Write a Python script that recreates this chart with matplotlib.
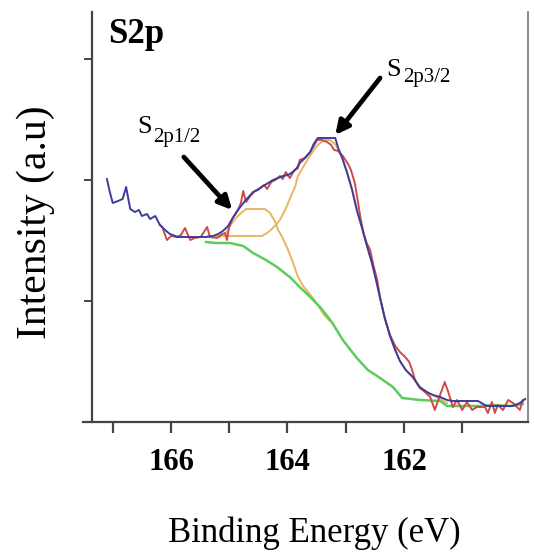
import matplotlib
matplotlib.use("Agg")
import matplotlib.pyplot as plt

# ---- data (binding energy in eV, intensity in arbitrary units) ----
fit_be = [167.10, 167.05, 167.00, 166.91, 166.83, 166.77, 166.70, 166.62, 166.55, 166.50,
          166.41, 166.36, 166.27, 166.19, 166.10, 166.02, 165.88, 165.59, 165.40, 165.28,
          165.19, 165.11, 165.02, 164.94, 164.85, 164.73, 164.59, 164.51, 164.42, 164.33,
          164.25, 164.16, 164.08, 163.99, 163.91, 163.84, 163.79, 163.70, 163.61, 163.55,
          163.48, 163.30, 163.18, 163.13, 163.06, 162.98, 162.89, 162.81, 162.72, 162.64,
          162.55, 162.48, 162.41, 162.33, 162.24, 162.15, 162.07, 161.97, 161.85, 161.73,
          161.61, 161.50, 161.38, 161.26, 161.16, 160.73, 160.58, 160.13, 160.01, 159.92]
fit_int = [243, 230, 219, 221, 223, 235, 213, 210, 212, 206,
           208, 203, 206, 197, 192, 188, 185, 185, 185, 186,
           188, 191, 196, 204, 212, 221, 230, 232, 236, 239,
           242, 244, 246, 247, 250, 254, 259, 264, 270, 278,
           284, 284, 284, 274, 264, 250, 232, 212, 194, 177,
           159, 142, 124, 104, 86, 72, 61, 52, 45, 35,
           30, 27, 25, 22, 21, 21, 16, 16, 19, 23]

raw_be = [166.19, 166.15, 166.07, 166.00, 165.90, 165.83, 165.76, 165.67, 165.59, 165.49,
          165.38, 165.33, 165.21, 165.12, 165.07, 165.04, 165.00, 164.94, 164.85, 164.80,
          164.76, 164.71, 164.64, 164.56, 164.47, 164.40, 164.35, 164.28, 164.21, 164.13,
          164.08, 164.03, 163.96, 163.89, 163.82, 163.79, 163.70, 163.61, 163.55, 163.49,
          163.41, 163.32, 163.25, 163.20, 163.13, 163.05, 162.96, 162.91, 162.84, 162.79,
          162.74, 162.69, 162.64, 162.58, 162.53, 162.46, 162.41, 162.33, 162.24, 162.15,
          162.07, 161.98, 161.91, 161.86, 161.81, 161.73, 161.64, 161.55, 161.47, 161.38,
          161.30, 161.24, 161.16, 161.09, 161.00, 160.92, 160.83, 160.75, 160.61, 160.56,
          160.49, 160.44, 160.39, 160.30, 160.21, 160.13, 160.01, 159.96]
raw_int = [197, 195, 182, 186, 185, 187, 194, 182, 184, 185,
           195, 185, 184, 188, 189, 182, 195, 204, 212, 219,
           231, 220, 226, 231, 234, 237, 233, 240, 242, 246,
           243, 250, 244, 251, 254, 262, 264, 270, 276, 282,
           282, 280, 277, 272, 271, 266, 258, 252, 238, 220,
           202, 188, 179, 172, 158, 142, 124, 104, 87, 76,
           70, 65, 60, 52, 42, 34, 30, 25, 12, 27,
           40, 30, 15, 22, 12, 20, 12, 15, 15, 9,
           20, 9, 17, 12, 22, 19, 12, 22]

bg_be = [165.40, 165.23, 164.99, 164.76, 164.59, 164.37, 164.18, 163.96, 163.79, 163.61,
         163.44, 163.24, 163.05, 162.81, 162.62, 162.41, 162.19, 162.03, 161.73, 161.38,
         161.26, 160.70, 160.47, 160.18, 159.96]
bg_int = [180, 179, 179, 176, 169, 162, 155, 145, 135, 125,
          115, 100, 82, 64, 52, 44, 35, 24, 22, 21,
          16, 16, 17, 16, 18]

p12_be = [165.36, 165.16, 165.07, 165.00, 164.90, 164.80, 164.71, 164.39, 164.30, 164.21,
          164.16, 164.09, 163.99, 163.91, 163.82, 163.73, 163.65, 163.55, 163.46, 163.37,
          163.27]
p12_int = [185, 185, 188, 195, 203, 209, 213, 213, 209, 200,
           192, 185, 172, 160, 145, 136, 130, 123, 115, 107,
           101]

p32_be = [165.36, 164.44, 164.35, 164.27, 164.20, 164.13, 164.06, 164.01, 163.94, 163.87,
          163.82, 163.73, 163.65, 163.58, 163.51, 163.44, 163.36, 163.27, 163.17, 163.06,
          162.98, 162.89, 162.81, 162.72, 162.64, 162.55, 162.48, 162.41, 162.33, 162.24,
          162.15, 162.07, 161.97, 161.85, 161.73, 161.55, 161.38, 161.26]
p32_int = [186, 186, 189, 193, 197, 202, 210, 216, 226, 235,
           246, 255, 263, 269, 275, 279, 282, 282, 277, 264,
           250, 232, 212, 194, 177, 159, 142, 124, 104, 86,
           72, 61, 52, 45, 35, 28, 23, 19]

xtick_pos = [167, 166, 165, 164, 163, 162, 161]
xtick_lab = ["", "166", "", "164", "", "162", ""]
ytick_pos = [121, 242, 363]

title_txt = "S2p"
xlabel_txt = "Binding Energy (eV)"
ylabel_txt = "Intensity (a.u)"

# ---- figure ----
plt.rcParams['font.family'] = ['Liberation Serif', 'DejaVu Serif']
fig = plt.figure(figsize=(5.34, 5.55), dpi=100)
ax = fig.add_axes([92/534, 1-422/555, (528-92)/534, (422-12)/555])

c_orange = '#e8b660'
c_green = '#5ccc5a'
c_red = '#d04a4a'
c_blue = '#3c3c9e'
lw = 1.4

ax.plot(p32_be, p32_int, color=c_orange, lw=lw)
ax.plot(p12_be, p12_int, color=c_orange, lw=lw)
ax.plot(bg_be, bg_int, color=c_green, lw=1.8)
ax.plot(raw_be, raw_int, color=c_red, lw=lw)
ax.plot(fit_be, fit_int, color=c_blue, lw=lw)

ax.set_xlim(167.356, 159.871)
ax.set_ylim(0, 410)

ax.set_xticks(xtick_pos)
ax.set_xticklabels(xtick_lab, fontsize=22, fontweight='bold')
ax.set_yticks(ytick_pos)
ax.set_yticklabels([])
ax.tick_params(axis='x', direction='out', length=8, width=1.6, color='#444444', pad=11)
ax.tick_params(axis='y', direction='out', length=6, width=1.4, color='#444444')

for s in ['left', 'bottom']:
    ax.spines[s].set_color('#444444')
    ax.spines[s].set_linewidth(1.6)
ax.spines['bottom'].set_bounds(167.51, 159.871)
ax.spines['right'].set_color('#777777')
ax.spines['right'].set_linewidth(1.2)
ax.spines['top'].set_visible(False)

# labels
ax.text(167.08, 379, title_txt, fontsize=25, fontweight='bold', ha='left', va='baseline')
ax.text(166.58, 289, "S", fontsize=19, ha='left', va='baseline')
ax.text(166.31, 280, "2p1/2", fontsize=15, ha='left', va='baseline')
ax.text(162.30, 346, "S", fontsize=19, ha='left', va='baseline')
ax.text(162.02, 340, "2p3/2", fontsize=15, ha='left', va='baseline')

arrow = dict(arrowstyle='-|>,head_length=0.8,head_width=0.4', lw=3.4, color='black',
             shrinkA=0, shrinkB=0)
ax.annotate("", xy=(164.95, 212), xytext=(165.78, 265), arrowprops=arrow)
ax.annotate("", xy=(163.18, 287), xytext=(162.41, 344), arrowprops=arrow)

fig.text(314/534, 1-542/555, xlabel_txt, fontsize=25, ha='center', va='baseline')
fig.text(36/534, 1-222/555, ylabel_txt, fontsize=30, ha='center', va='center', rotation=90)

fig.savefig("out.png", dpi=100)
